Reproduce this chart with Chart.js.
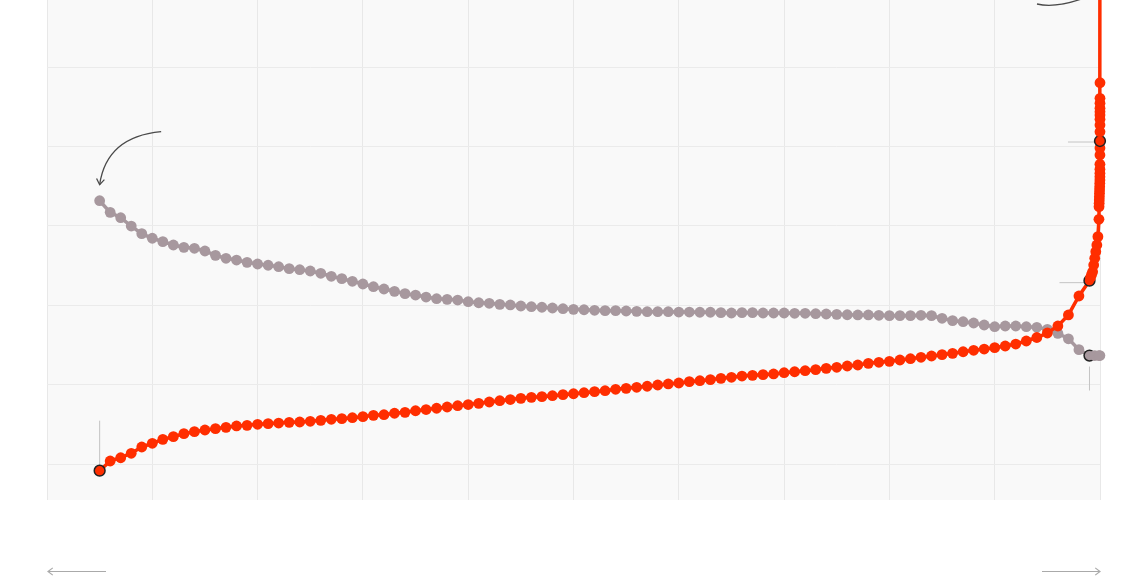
<!DOCTYPE html>
<html>
<head>
<meta charset="utf-8">
<script src="https://cdn.jsdelivr.net/npm/chart.js@4.4.1/dist/chart.umd.min.js"></script>
<style>
  html, body { margin: 0; padding: 0; background: #ffffff; }
  #wrap { width: 1130px; height: 580px; position: relative; }
</style>
</head>
<body>
<div id="wrap"><canvas id="c"></canvas></div>
<script>
// ---- data ----
const percentiles = [5,6,7,8,9,10,11,12,13,14,15,16,17,18,19,20,21,22,23,24,25,26,27,28,29,30,31,32,33,34,35,36,37,38,39,40,41,42,43,44,45,46,47,48,49,50,51,52,53,54,55,56,57,58,59,60,61,62,63,64,65,66,67,68,69,70,71,72,73,74,75,76,77,78,79,80,81,82,83,84,85,86,87,88,89,90,91,92,93,94,95,96,97,98,99];

const redValues = [
  -0.084, 0.038, 0.079, 0.135, 0.214, 0.261, 0.311, 0.344, 0.382, 0.407,
  0.428, 0.445, 0.462, 0.479, 0.487, 0.500, 0.508, 0.516, 0.525, 0.529,
  0.538, 0.550, 0.563, 0.571, 0.583, 0.596, 0.613, 0.621, 0.639, 0.651,
  0.671, 0.686, 0.702, 0.718, 0.734, 0.749, 0.764, 0.781, 0.797, 0.812,
  0.827, 0.840, 0.848, 0.860, 0.873, 0.885, 0.898, 0.911, 0.923, 0.941,
  0.953, 0.966, 0.979, 0.995, 1.008, 1.020, 1.037, 1.049, 1.062, 1.079,
  1.092, 1.108, 1.117, 1.125, 1.134, 1.150, 1.162, 1.175, 1.188, 1.205,
  1.218, 1.234, 1.247, 1.268, 1.281, 1.293, 1.310, 1.326, 1.344, 1.360,
  1.377, 1.394, 1.414, 1.432, 1.448, 1.465, 1.486, 1.511, 1.549, 1.593,
  1.650, 1.738, 1.877, 2.116, 2.309
];

const grayValues = [
  3.316, 3.170, 3.102, 2.997, 2.901, 2.843, 2.800, 2.758, 2.729, 2.717,
  2.683, 2.628, 2.591, 2.569, 2.540, 2.519, 2.503, 2.485, 2.460, 2.447,
  2.431, 2.402, 2.364, 2.334, 2.301, 2.267, 2.233, 2.204, 2.175, 2.145,
  2.128, 2.103, 2.082, 2.074, 2.065, 2.044, 2.031, 2.024, 2.011, 2.003,
  1.990, 1.981, 1.974, 1.965, 1.956, 1.948, 1.943, 1.936, 1.931, 1.931,
  1.927, 1.923, 1.918, 1.918, 1.918, 1.914, 1.914, 1.911, 1.911, 1.906,
  1.902, 1.906, 1.906, 1.902, 1.902, 1.902, 1.898, 1.898, 1.893, 1.889,
  1.885, 1.880, 1.877, 1.877, 1.873, 1.868, 1.868, 1.868, 1.873, 1.868,
  1.835, 1.805, 1.792, 1.776, 1.751, 1.729, 1.738, 1.738, 1.729, 1.722,
  1.696, 1.646, 1.577, 1.440, 1.366
];

const redTopPercentiles = [99.1, 99.2, 99.3, 99.4, 99.5, 99.6, 99.7, 99.8, 99.9,
  99.91, 99.92, 99.93, 99.94, 99.95, 99.96, 99.97, 99.98, 99.99,
  99.991, 99.992, 99.993, 99.994, 99.995, 99.996, 99.997, 99.998, 99.999,
  99.9991, 99.9992, 99.9993, 99.9994, 99.9995, 99.9996, 99.9997, 100];
const redTopValues = [2.349, 2.387, 2.422, 2.506, 2.591, 2.674, 2.758, 2.863, 3.082,
  3.241, 3.283, 3.325, 3.366, 3.409, 3.451, 3.492, 3.535, 3.577,
  3.618, 3.661, 3.712, 3.775, 3.892, 3.980, 4.068, 4.185, 4.270,
  4.341, 4.395, 4.437, 4.480, 4.543, 4.606, 4.802, 9.6];

const grayTopPercentiles = [99.5, 99.9, 99.99];
const grayTopValues = [1.366, 1.366, 1.366];

const redHighlights = [5, 99, 99.997];
const grayHighlights = [99];

const xTicks = [0, 10, 20, 30, 40, 50, 60, 70, 80, 90, 100];
const yTicks = [0, 1, 2, 3, 4, 5];

// ---- build points ----
function pts(xs, ys) { return xs.map((x, i) => ({ x: x, y: ys[i] })); }
const redData = pts(percentiles, redValues).concat(pts(redTopPercentiles, redTopValues));
const grayData = pts(percentiles, grayValues).concat(pts(grayTopPercentiles, grayTopValues));

const RED = '#ff2e00';
const GRAY = '#a7989e';

function hl(list) {
  return ctx => (ctx.raw && list.includes(ctx.raw.x));
}
const isRedHL = hl(redHighlights);
const isGrayHL = hl(grayHighlights);

function px(chart, x, y) {
  return { x: chart.scales.x.getPixelForValue(x), y: chart.scales.y.getPixelForValue(y) };
}
function valAt(xs, ys, x) { return ys[xs.indexOf(x)]; }

function arrowHead(ctx, tip, from, len, ang) {
  const a = Math.atan2(from.y - tip.y, from.x - tip.x);
  ctx.beginPath();
  ctx.moveTo(tip.x + len * Math.cos(a + ang), tip.y + len * Math.sin(a + ang));
  ctx.lineTo(tip.x, tip.y);
  ctx.lineTo(tip.x + len * Math.cos(a - ang), tip.y + len * Math.sin(a - ang));
  ctx.stroke();
}

const decor = {
  id: 'decor',
  beforeDraw(chart) {
    const { ctx, chartArea: a } = chart;
    ctx.save();
    ctx.fillStyle = '#f9f9f9';
    ctx.fillRect(a.left, a.top, a.right - a.left, a.bottom - a.top);
    ctx.restore();
  },
  beforeDatasetsDraw(chart) {
    const ctx = chart.ctx;
    ctx.save();
    ctx.strokeStyle = '#c4c4c4';
    ctx.lineWidth = 1;
    const p1 = px(chart, 5, redValues[0]);
    ctx.beginPath(); ctx.moveTo(p1.x, p1.y - 50); ctx.lineTo(p1.x, p1.y - 5); ctx.stroke();
    const p2 = px(chart, 99, valAt(percentiles, redValues, 99));
    ctx.beginPath(); ctx.moveTo(p2.x - 30, p2.y + 2); ctx.lineTo(p2.x - 4, p2.y + 2); ctx.stroke();
    const p3 = px(chart, 99.997, valAt(redTopPercentiles, redTopValues, 99.997));
    ctx.beginPath(); ctx.moveTo(p3.x - 32, p3.y + 1); ctx.lineTo(p3.x - 4, p3.y + 1); ctx.stroke();
    const p4 = px(chart, 99, valAt(percentiles, grayValues, 99));
    ctx.beginPath(); ctx.moveTo(p4.x, p4.y + 11); ctx.lineTo(p4.x, p4.y + 35); ctx.stroke();
    ctx.restore();
  },
  afterDraw(chart) {
    const { ctx, chartArea: a } = chart;
    ctx.save();
    // curved arrow to gray start
    const g0 = px(chart, 5, grayValues[0]);
    const s = { x: g0.x + 61.5, y: g0.y - 69 };
    const c = { x: g0.x + 7, y: g0.y - 64 };
    const e = { x: g0.x, y: g0.y - 16 };
    ctx.strokeStyle = '#4a4a4a';
    ctx.lineWidth = 1.3;
    ctx.beginPath(); ctx.moveTo(s.x, s.y); ctx.quadraticCurveTo(c.x, c.y, e.x, e.y); ctx.stroke();
    arrowHead(ctx, e, c, 7, 0.6);
    // top-right arc (annotation cut off at top)
    const rx = chart.scales.x.getPixelForValue(100);
    ctx.beginPath();
    ctx.moveTo(rx - 63, a.top + 4);
    ctx.quadraticCurveTo(rx - 42, a.top + 9, rx - 8, a.top - 5);
    ctx.stroke();
    // bottom arrows
    const y = a.bottom + 71.5;
    ctx.strokeStyle = '#aaaaaa';
    ctx.lineWidth = 1.2;
    ctx.beginPath(); ctx.moveTo(a.left + 1, y); ctx.lineTo(a.left + 59, y); ctx.stroke();
    arrowHead(ctx, { x: a.left + 1, y: y }, { x: a.left + 59, y: y }, 6, 0.65);
    ctx.beginPath(); ctx.moveTo(a.right - 58, y); ctx.lineTo(a.right, y); ctx.stroke();
    arrowHead(ctx, { x: a.right, y: y }, { x: a.right - 58, y: y }, 6, 0.65);
    ctx.restore();
  }
};

new Chart(document.getElementById('c'), {
  type: 'line',
  data: {
    datasets: [
      {
        label: 'red',
        data: redData,
        borderColor: RED,
        borderWidth: 3.5,
        backgroundColor: RED,
        pointBackgroundColor: RED,
        pointBorderColor: ctx => isRedHL(ctx) ? '#222222' : RED,
        pointBorderWidth: ctx => isRedHL(ctx) ? 1.5 : 0,
        pointRadius: 5.4,
        tension: 0,
        fill: false,
        clip: false
      },
      {
        label: 'gray',
        data: grayData,
        borderColor: GRAY,
        borderWidth: 3.5,
        backgroundColor: GRAY,
        pointBackgroundColor: GRAY,
        pointBorderColor: ctx => isGrayHL(ctx) ? '#222222' : GRAY,
        pointBorderWidth: ctx => isGrayHL(ctx) ? 1.5 : 0,
        pointRadius: 5.4,
        tension: 0,
        fill: false,
        clip: false
      }
    ]
  },
  options: {
    responsive: true,
    maintainAspectRatio: false,
    animation: false,
    events: [],
    layout: { autoPadding: false, padding: { left: 47, right: 30, top: 0, bottom: 80 } },
    plugins: { legend: { display: false }, tooltip: { enabled: false } },
    scales: {
      x: {
        type: 'linear',
        min: 0, max: 100,
        afterBuildTicks: sc => { sc.ticks = xTicks.map(v => ({ value: v })); },
        ticks: { display: false },
        grid: { color: '#e8e8e8', lineWidth: 1, drawTicks: false },
        border: { display: false }
      },
      y: {
        type: 'linear',
        min: -0.4534, max: 5.844,
        afterBuildTicks: sc => { sc.ticks = yTicks.map(v => ({ value: v })); },
        ticks: { display: false },
        grid: { color: '#ebebeb', lineWidth: 1, drawTicks: false },
        border: { display: false }
      }
    }
  },
  plugins: [decor]
});
</script>
</body>
</html>
